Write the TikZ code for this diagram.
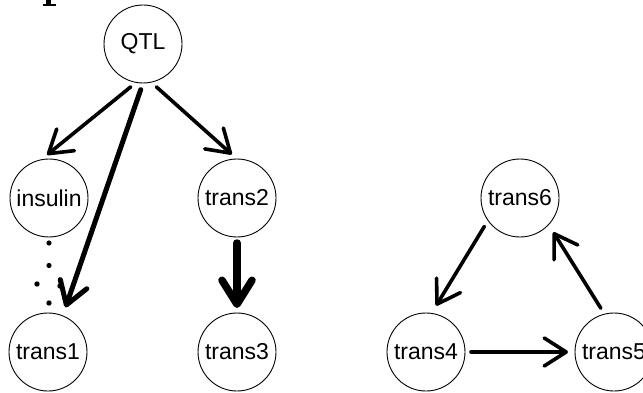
\documentclass[tikz,border=0pt]{standalone}
\usepackage{fontspec}
\setmainfont{Liberation Sans}
\usetikzlibrary{arrows.meta,calc}
\begin{document}
\begin{tikzpicture}[x=1pt,y=-1pt,
  vert/.style={circle,draw,line width=0.9pt,minimum size=78pt,inner sep=0pt,outer sep=0pt,font=\fontsize{23}{27}\selectfont},
  edge/.style={line width=3.6pt,line cap=round,line join=round,-{Straight Barb[length=22pt,width=28pt,round]},shorten <=7pt},
  heavy/.style={edge,line width=5pt},
  heavier/.style={edge,line width=7.5pt,-{Straight Barb[length=24pt,width=30pt,round]}},
  dotsty/.style={line width=5.2pt,line cap=round,dash pattern=on 0pt off 22.5pt}]
\useasboundingbox (0,0) rectangle (643,393);
\clip (0,0) rectangle (643,393);
% cut-off title fragment
\fill (46,0) rectangle (51,4.5);
\fill (43,3.8) rectangle (56,5.6);
% vertices
\node[vert] (QTL) at (143,44) {QTL};
\node[vert] (insulin) at (49,198) {insulin};
\node[vert] (trans2) at (237,198) {trans2};
\node[vert] (trans1) at (48,352) {trans1};
\node[vert] (trans3) at (237,352) {trans3};
\node[vert] (trans6) at (520,198) {trans6};
\node[vert] (trans4) at (426,352) {trans4};
\node[vert] (trans5) at (614,352) {trans5};
% edges
\draw[edge,shorten >=8pt] (QTL.260) -- (insulin.102);
\draw[edge,shorten >=7pt] (QTL.282) -- (trans2.north);
\draw[heavy,shorten >=9pt] (QTL.270) -- (trans1.68);
\draw[heavier,shorten <=6pt,shorten >=5pt] (trans2.south) -- (trans3.north);
\draw[edge,shorten >=9pt] (trans6.215) -- (trans4.82);
\draw[edge,shorten <=6pt,shorten >=7pt] (trans4.east) -- (trans5.west);
\draw[edge,shorten <=7pt,shorten >=9pt] (trans5.104) -- (trans6.317);
% dotted edge insulin -> trans1
\coordinate (dtip) at ($(trans1.north)+(1,-10)$);
\draw[dotsty] ($(insulin.south)+(0,6)$) -- ($(dtip)+(0,-16)$);
\fill (dtip) circle (2.7pt);
\fill ($(dtip)+(-12,-19)$) circle (2.7pt);
\fill ($(dtip)+(11,-17)$) circle (2.7pt);
\end{tikzpicture}
\end{document}
